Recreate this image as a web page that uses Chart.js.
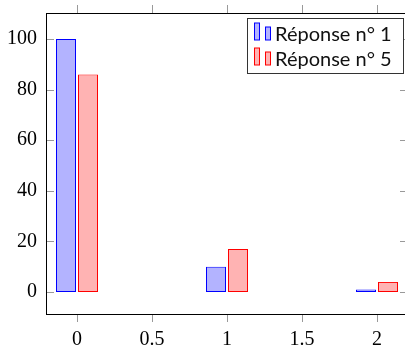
<!DOCTYPE html>
<html lang="fr">
<head>
    <meta charset="UTF-8">
    <title>Réponses</title>
    <script src="https://cdn.jsdelivr.net/npm/chart.js@4"></script>
    <style>
* {
    margin: 0;
    padding: 0;
}
body {
    background: #fff;
    overflow: hidden;
    width: 405px;
    height: 345px;
}
#chart {
    display: block;
}
    </style>
</head>
<body>
    <canvas id="chart" width="409" height="345"></canvas>

    <script>
        // data
        const xValues = [0, 1, 2];
        const reponse1 = [100, 10, 1];
        const reponse5 = [86, 17, 4];
        const seriesNames = ['Réponse n° 1', 'Réponse n° 5'];
        const xTicks = [0, 0.5, 1, 1.5, 2];
        const yTicks = [0, 20, 40, 60, 80, 100];

        const serif = "'Liberation Serif', 'DejaVu Serif', serif";
        const sans = "Lato, 'Open Sans', sans-serif";

        // frame + pgfplots style ticks + legend box
        const pgfFrame = {
            id: 'pgfFrame',
            afterDraw(chart) {
                const ctx = chart.ctx;
                const a = chart.chartArea;
                const xs = chart.scales.x, ys = chart.scales.y;
                ctx.save();
                ctx.lineWidth = 1;

                // ticks
                ctx.strokeStyle = '#999';
                ctx.beginPath();
                xs.ticks.forEach(t => {
                    const px = Math.round(xs.getPixelForValue(t.value)) + 0.5;
                    ctx.moveTo(px, a.top - 8);
                    ctx.lineTo(px, a.top);
                    ctx.moveTo(px, a.bottom);
                    ctx.lineTo(px, a.bottom + 8);
                });
                ys.ticks.forEach(t => {
                    const py = Math.round(ys.getPixelForValue(t.value)) + 0.5;
                    ctx.moveTo(a.left, py);
                    ctx.lineTo(a.left + 8, py);
                    ctx.moveTo(a.right, py);
                    ctx.lineTo(a.right - 8, py);
                });
                ctx.stroke();

                // axis box
                ctx.strokeStyle = '#000';
                ctx.strokeRect(Math.round(a.left) + 0.5, Math.round(a.top) + 0.5,
                    Math.round(a.right - a.left), Math.round(a.bottom - a.top));

                // legend
                const lx = 247.5, ly = 18.5, lw = 156, lh = 55;
                ctx.fillStyle = '#fff';
                ctx.fillRect(lx, ly, lw, lh);
                ctx.strokeStyle = '#333';
                ctx.strokeRect(lx, ly, lw, lh);
                ctx.font = '20px ' + sans;
                ctx.textBaseline = 'alphabetic';
                chart.data.datasets.forEach((ds, i) => {
                    const base = 40 + i * 25;
                    ctx.fillStyle = ds.backgroundColor;
                    ctx.strokeStyle = ds.borderColor;
                    ctx.fillRect(254.5, base - 17, 5, 17);
                    ctx.strokeRect(254.5, base - 17, 5, 17);
                    ctx.fillRect(265.5, base - 13, 5, 13);
                    ctx.strokeRect(265.5, base - 13, 5, 13);
                    ctx.fillStyle = '#111';
                    ctx.fillText(ds.label, 275, base + 1);
                });
                ctx.restore();
            }
        };

        const ctx = document.getElementById('chart').getContext('2d');
        const chart = new Chart(ctx, {
            type: 'bar',
            data: {
                datasets: [
                    {
                        label: seriesNames[0],
                        data: xValues.map((x, i) => ({ x: x, y: reponse1[i] })),
                        backgroundColor: 'rgb(179,179,255)',
                        borderColor: 'rgb(0,0,255)',
                        borderWidth: 1,
                        borderSkipped: false,
                        inflateAmount: 0
                    },
                    {
                        label: seriesNames[1],
                        data: xValues.map((x, i) => ({ x: x, y: reponse5[i] })),
                        backgroundColor: 'rgb(255,179,179)',
                        borderColor: 'rgb(255,0,0)',
                        borderWidth: 1,
                        borderSkipped: false,
                        inflateAmount: 0
                    }
                ]
            },
            options: {
                responsive: false,
                animation: false,
                events: [],
                // ruler = one x tick step (75px): 2 bars of 20px, 22px apart
                categoryPercentage: 44 / 75,
                barPercentage: 20 / 22,
                layout: { padding: { top: 13, right: 1, left: 0, bottom: 0 } },
                plugins: {
                    legend: { display: false },
                    tooltip: { enabled: false }
                },
                scales: {
                    x: {
                        type: 'linear',
                        offset: false,
                        min: -31 / 150,
                        max: 331 / 150,
                        afterBuildTicks: s => { s.ticks = xTicks.map(v => ({ value: v })); },
                        afterFit: s => {
                            s.height = 31;
                            s.paddingLeft = 0;
                            s.paddingRight = 0;
                        },
                        grid: { display: false, drawTicks: false },
                        border: { display: false },
                        ticks: {
                            padding: 14,
                            color: '#000',
                            maxRotation: 0,
                            font: { family: serif, size: 20 },
                            callback: v => String(v)
                        }
                    },
                    y: {
                        min: -22 / 2.53,
                        max: 279 / 2.53,
                        afterBuildTicks: s => { s.ticks = yTicks.map(v => ({ value: v })); },
                        afterFit: s => {
                            s.width = 46;
                            s.paddingTop = 0;
                            s.paddingBottom = 0;
                        },
                        grid: { display: false, drawTicks: false },
                        border: { display: false },
                        ticks: {
                            padding: 9,
                            color: '#000',
                            font: { family: serif, size: 20 },
                            callback: v => String(v)
                        }
                    }
                }
            },
            plugins: [pgfFrame]
        });
    </script>
</body>
</html>
